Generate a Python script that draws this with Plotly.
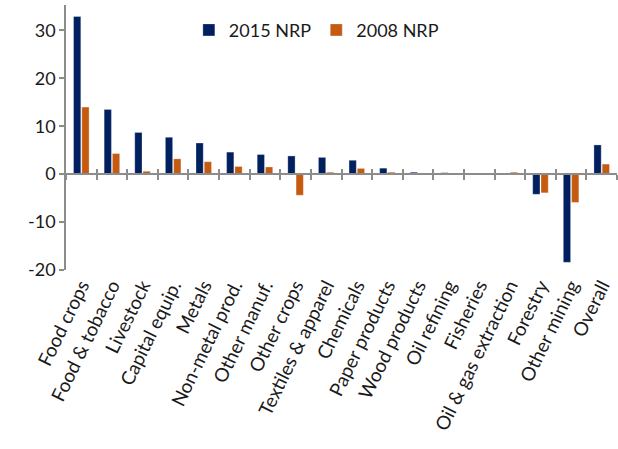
import plotly.graph_objects as go

categories = ["Food crops", "Food & tobacco", "Livestock", "Capital equip.", "Metals",
              "Non-metal prod.", "Other manuf.", "Other crops", "Textiles & apparel",
              "Chemicals", "Paper products", "Wood products", "Oil refining", "Fisheries",
              "Oil & gas extraction", "Forestry", "Other mining", "Overall"]
nrp_2015 = [32.9, 13.5, 8.7, 7.7, 6.5, 4.6, 4.1, 3.8, 3.5, 2.9, 1.25, 0.4, 0.3, 0.2, 0.0, -4.2, -18.4, 6.1]
nrp_2008 = [14.0, 4.3, 0.6, 3.2, 2.6, 1.6, 1.5, -4.4, 0.4, 1.2, 0.4, 0.05, 0.0, 0.0, 0.4, -3.9, -5.9, 2.1]
y_ticks = [-20, -10, 0, 10, 20, 30]
y_tick_labels = ["-20", "-10", "0", "10", "20", "30"]

NAVY = "#002060"
ORANGE = "#C55A11"
AXIS = "#8C8C8C"
FONT = "Lato"

fig = go.Figure()
fig.add_trace(go.Bar(x=categories, y=nrp_2015, name="2015 NRP", marker_color=NAVY,
                     marker_line=dict(color="rgba(255,255,255,0.6)", width=0.5)))
fig.add_trace(go.Bar(x=categories, y=nrp_2008, name="2008 NRP", marker_color=ORANGE,
                     marker_line=dict(color="rgba(255,255,255,0.6)", width=0.5)))
# invisible traces to carry the zero-line axes
fig.add_trace(go.Scatter(x=categories, y=[0] * len(categories), xaxis="x2", mode="none",
                         showlegend=False, hoverinfo="skip"))
fig.add_trace(go.Scatter(x=categories, y=[0] * len(categories), xaxis="x3", mode="none",
                         showlegend=False, hoverinfo="skip"))

ymin, ymax = -20, 35.3
zero_pos = (0 - ymin) / (ymax - ymin)
xr = [-0.5, len(categories) - 0.5]

fig.update_layout(
    width=618, height=449,
    margin=dict(l=66, r=1, t=5, b=179),
    paper_bgcolor="white", plot_bgcolor="white",
    barmode="group", bargap=0.46, bargroupgap=0.12,
    font=dict(family=FONT, size=18, color="#1a1a1a"),
    legend=dict(orientation="h", x=0.223, y=0.905, xanchor="left", yanchor="middle",
                font=dict(family=FONT, size=18), itemwidth=30, traceorder="normal",
                bgcolor="rgba(0,0,0,0)"),
    yaxis=dict(range=[ymin, ymax], tickvals=y_ticks, ticktext=y_tick_labels,
               showgrid=False, zeroline=False, automargin=False,
               showline=True, linecolor=AXIS, linewidth=1.5, ticks="outside",
               tickcolor=AXIS, ticklen=5, tickwidth=1.5, tickfont=dict(size=18)),
    xaxis=dict(range=xr, showline=False, ticks="", showgrid=False, tickangle=-64,
               automargin=False, tickfont=dict(size=19),
               categoryorder="array", categoryarray=categories),
    xaxis2=dict(range=xr, overlaying="x", anchor="free", position=zero_pos,
                showline=True, linecolor=AXIS, linewidth=2, ticks="outside",
                tickson="boundaries", ticklen=5, tickwidth=1.5, tickcolor=AXIS,
                showticklabels=False, showgrid=False, automargin=False,
                categoryorder="array", categoryarray=categories),
    xaxis3=dict(range=xr, overlaying="x", anchor="free", position=zero_pos,
                showline=False, ticks="inside", tickson="boundaries", ticklen=5,
                tickwidth=1.5, tickcolor=AXIS, showticklabels=False, showgrid=False,
                automargin=False, categoryorder="array", categoryarray=categories),
)

fig.write_html("out.html", config={"displayModeBar": False},
               post_script="document.body.style.margin='0';document.body.style.overflow='hidden';")
